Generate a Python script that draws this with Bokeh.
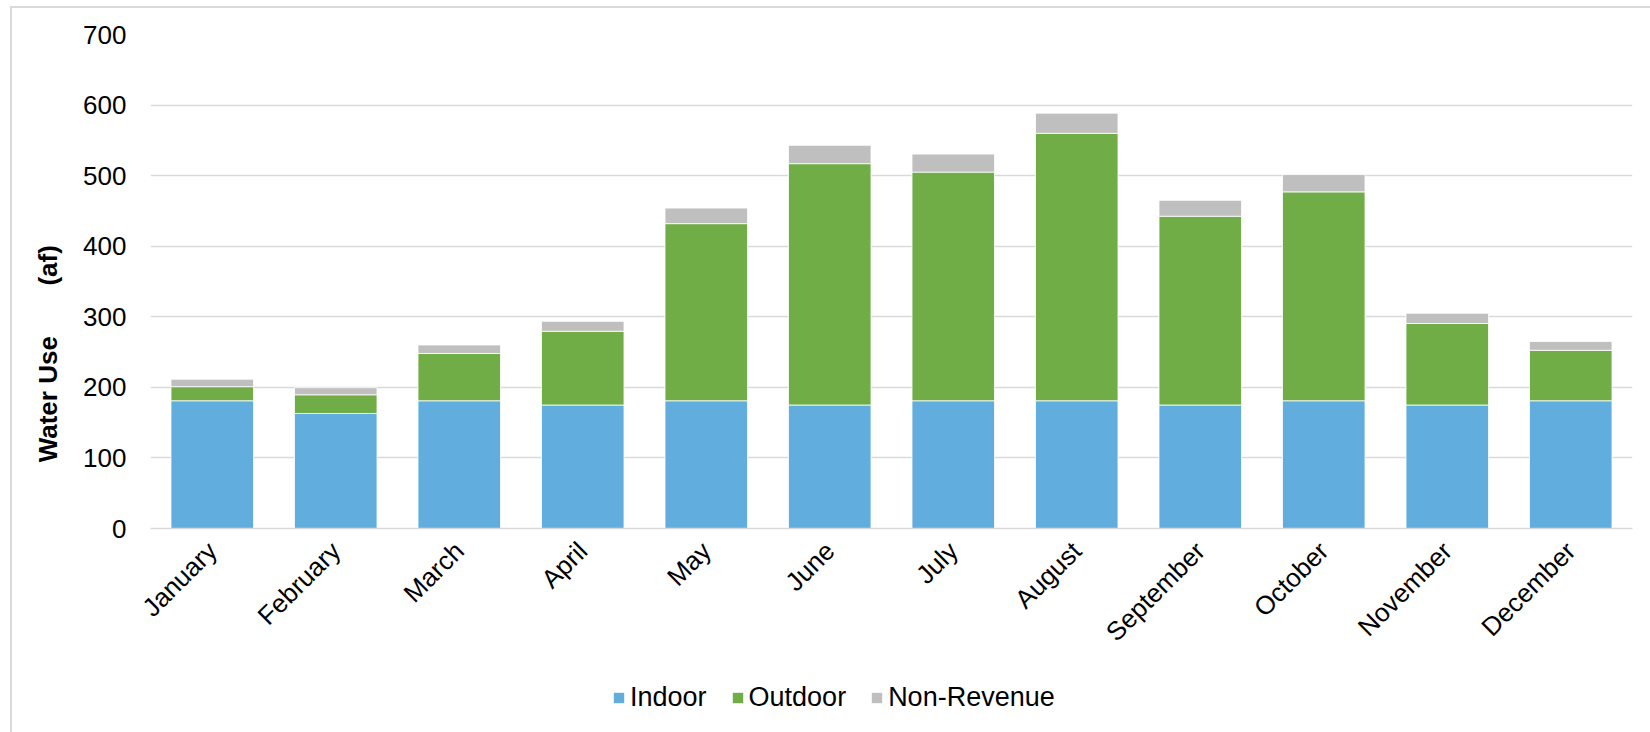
import math
from bokeh.plotting import figure
from bokeh.layouts import column
from bokeh.models import ColumnDataSource, Legend, LegendItem, FactorRange, Range1d
from bokeh.embed import file_html
from bokeh.resources import INLINE

months = ["January", "February", "March", "April", "May", "June", "July",
          "August", "September", "October", "November", "December"]
indoor = [181, 163, 181, 175, 181, 175, 181, 181, 175, 181, 175, 181]
outdoor = [20, 26.5, 67, 104.5, 251, 342, 324, 379, 267.5, 296, 115.5, 71.5]
non_revenue = [10.5, 10, 12, 14, 22, 26, 25.5, 28.5, 22.5, 24.5, 14.5, 12.5]
series = ["Indoor", "Outdoor", "Non-Revenue"]
colors = ["#60ADDE", "#70AD47", "#BFBFBF"]
y_ticks = [0, 100, 200, 300, 400, 500, 600, 700]
y_label = "Water Use" + "\u00a0" * 7 + "(af)" + "\u00a0" * 20

FONT = "Liberation Sans"

src = ColumnDataSource(data={"month": months, "Indoor": indoor,
                             "Outdoor": outdoor, "Non-Revenue": non_revenue})

# ---- main chart ----
p = figure(x_range=FactorRange(*months), y_range=Range1d(0, 700),
           width=1638, height=652, output_backend="svg", toolbar_location=None,
           min_border_left=138, min_border_right=18, min_border_top=26,
           min_border_bottom=125)
p.outline_line_color = None
p.background_fill_color = "white"
p.border_fill_color = "white"

p.vbar_stack(series, x="month", width=0.668, color=colors,
             source=src, line_color="white", line_width=0.8)

p.xgrid.grid_line_color = None
p.ygrid.grid_line_color = "#d9d9d9"
p.ygrid.grid_line_width = 1.5
p.ygrid.level = "underlay"

p.yaxis.ticker = y_ticks
p.yaxis.axis_line_color = None
p.yaxis.major_tick_line_color = None
p.yaxis.minor_tick_line_color = None
p.yaxis.major_tick_out = 0
p.yaxis.major_tick_in = 0
p.yaxis.major_label_standoff = 24
p.yaxis.major_label_text_font = FONT
p.yaxis.major_label_text_font_size = "26px"
p.yaxis.major_label_text_color = "black"
p.yaxis.axis_label = y_label
p.yaxis.axis_label_text_font = FONT
p.yaxis.axis_label_text_font_size = "26px"
p.yaxis.axis_label_text_font_style = "bold"
p.yaxis.axis_label_text_color = "black"
p.yaxis.axis_label_standoff = 17

p.xaxis.axis_line_color = "#d9d9d9"
p.xaxis.axis_line_width = 1.5
p.xaxis.major_tick_line_color = None
p.xaxis.minor_tick_line_color = None
p.xaxis.major_tick_out = 0
p.xaxis.major_tick_in = 0
p.xaxis.major_label_orientation = math.pi / 4
p.xaxis.major_label_standoff = 18
p.xaxis.major_label_text_font = FONT
p.xaxis.major_label_text_font_size = "26px"
p.xaxis.major_label_text_color = "black"

# ---- legend strip (same series as zero-width bars far outside the view) ----
leg = figure(width=1638, height=72, output_backend="svg", toolbar_location=None,
             x_range=FactorRange(*months), y_range=Range1d(-1000, -900),
             x_axis_location=None, y_axis_location=None, min_border=0)
leg.outline_line_color = None
leg.grid.grid_line_color = None
leg.background_fill_color = "white"
leg.border_fill_color = "white"

leg_renderers = leg.vbar_stack(series, x="month", width=0, color=colors,
                               source=src, line_color=None)
items = [LegendItem(label=name, renderers=[r]) for name, r in zip(series, leg_renderers)]

legend = Legend(items=items, location=(462, 19), orientation="horizontal",
                border_line_alpha=0, background_fill_alpha=0, padding=0, margin=0,
                spacing=24, label_standoff=5, glyph_width=13, glyph_height=13,
                label_height=30, label_text_font=FONT, label_text_font_size="27px",
                label_text_color="black")
leg.add_layout(legend)

layout = column(p, leg, spacing=0)
layout.styles = {"margin-left": "10px", "margin-top": "6px",
                 "border-left": "2px solid #d9d9d9", "border-top": "2px solid #d9d9d9"}

open("out.html", "w").write(file_html(layout, INLINE))
